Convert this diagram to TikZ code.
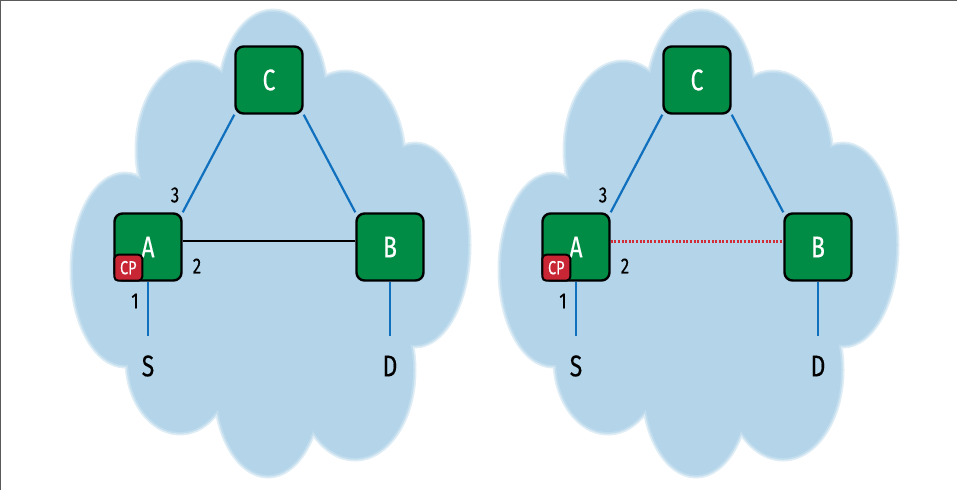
\documentclass[tikz,border=0pt]{standalone}
\usepackage{fontspec}
\setmainfont{Fira Sans}[FakeStretch=0.76, FakeBold=0.3]
\usepackage{tikz}
\usetikzlibrary{positioning, backgrounds}
\definecolor{cloudcolor}{RGB}{179,212,233}
\definecolor{routercolor}{RGB}{0,140,68}
\definecolor{cpcolor}{RGB}{200,38,52}
\definecolor{linkcolor}{RGB}{16,112,190}
\definecolor{failcolor}{RGB}{210,45,55}
\definecolor{framecolor}{RGB}{90,90,90}

\begin{document}
\begin{tikzpicture}[
    x=1pt, y=-1pt,
    cloud/.style={fill=cloudcolor, preaction={draw=cloudcolor!45!white, line width=7pt}, preaction={draw=cloudcolor!80!white, line width=3.5pt}},
    router/.style={draw, line width=2.4pt, fill=routercolor, rounded corners=8pt, minimum width=67pt, minimum height=67pt, inner sep=0pt, text=white, font=\fontsize{30}{30}\selectfont},
    cpbox/.style={draw, line width=2pt, fill=cpcolor, rounded corners=4pt, minimum width=28pt, minimum height=26pt, inner sep=0pt, text=white, font=\fontsize{19}{19}\selectfont},
    host/.style={inner sep=0pt, font=\fontsize{30}{30}\selectfont},
    port/.style={inner sep=0pt, font=\fontsize{22}{22}\selectfont},
    link/.style={line width=2.2pt, linkcolor},
    direct/.style={line width=2.8pt, black},
    broken/.style={line width=3pt, failcolor, dash pattern=on 2pt off 1.6pt}
]
    \useasboundingbox (0,0) rectangle (957,490);

    % Frame
    \draw[framecolor, line width=1pt] (0.5,490) -- (0.5,0.5) -- (957,0.5);

    % Left: routers
    \node[router] (C1) at (269,80) {C};
    \node[router] (A1) at (148,247) {A};
    \node[router] (B1) at (390,247) {B};
    \node[cpbox, anchor=south west] (cp1) at (A1.south west) {CP};
    \node[host] (S1) at (148,366) {S};
    \node[host] (D1) at (390,366) {D};

    % Left: ports
    \node[port] (p3l) at (175,195) {3};
    \node[port] (p2l) at (197,266) {2};
    \node[port] (p1l) at (135,301) {1};

    % Right: routers
    \node[router] (C2) at (697,80) {C};
    \node[router] (A2) at (576,247) {A};
    \node[router] (B2) at (818,247) {B};
    \node[cpbox, anchor=south west] (cp2) at (A2.south west) {CP};
    \node[host] (S2) at (576,366) {S};
    \node[host] (D2) at (818,366) {D};

    % Right: ports
    \node[port] (p3r) at (603,195) {3};
    \node[port] (p2r) at (625,266) {2};
    \node[port] (p1r) at (563,301) {1};

    \begin{scope}[on background layer]
        % Clouds
        \foreach \dx in {0,428} {
            \path[cloud, xshift=\dx]
                (270,260) ellipse [x radius=140, y radius=150]
                (273,100) ellipse [x radius=53, y radius=88]
                (195,150) ellipse [x radius=57, y radius=87]
                (345,160) ellipse [x radius=58, y radius=87]
                (125,270) ellipse [x radius=52, y radius=95]
                (415,245) ellipse [x radius=53, y radius=100]
                (180,360) ellipse [x radius=52, y radius=72]
                (268,385) ellipse [x radius=52, y radius=90]
                (355,370) ellipse [x radius=58, y radius=88];
        }

        % Left: links
        \draw[link] (A1.north east) -- (C1.south west);
        \draw[link] (C1.south east) -- (B1.north west);
        \draw[link, shorten >=19pt] (A1.south) -- (S1.north);
        \draw[link, shorten >=19pt] (B1.south) -- (D1.north);
        \draw[direct] ([yshift=6pt]A1.east) -- ([yshift=6pt]B1.west);

        % Right: links
        \draw[link] (A2.north east) -- (C2.south west);
        \draw[link] (C2.south east) -- (B2.north west);
        \draw[link, shorten >=19pt] (A2.south) -- (S2.north);
        \draw[link, shorten >=19pt] (B2.south) -- (D2.north);
        \draw[broken] ([yshift=6pt]A2.east) -- ([yshift=6pt]B2.west);
    \end{scope}
\end{tikzpicture}
\end{document}
